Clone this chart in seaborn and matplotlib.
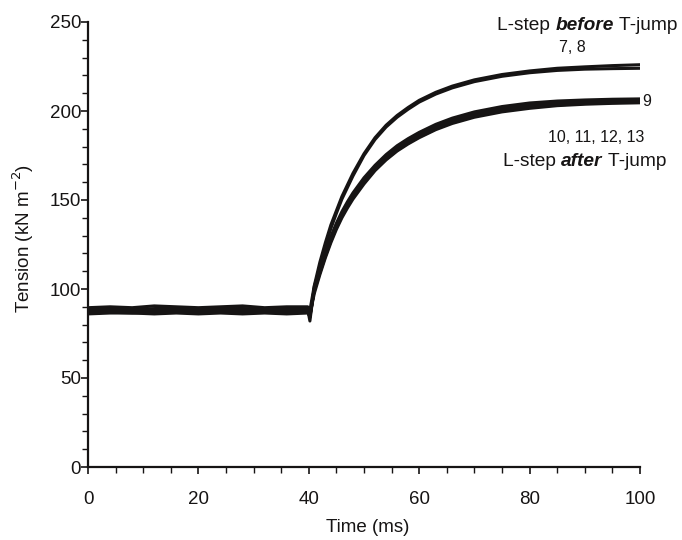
import matplotlib
matplotlib.use("Agg")
import matplotlib.pyplot as plt
import seaborn as sns
import pandas as pd
from matplotlib.ticker import MultipleLocator

# ---- data ----
time_ms = [0, 4, 8, 12, 16, 20, 24, 28, 32, 36, 39.8, 40.2, 41, 42, 43, 44, 45, 46, 47, 48,
           50, 52, 54, 56, 58, 60, 63, 66, 70, 75, 80, 85, 90, 95, 100]

trace7 = [89.5, 90, 89.5, 90.5, 90, 89.5, 90, 90.5, 89.5, 90, 90, 88, 102, 115, 126, 136, 144, 152, 158.5, 165,
          176, 185, 192, 197.5, 202, 206, 210.5, 214, 217.5, 220.5, 222.5, 224, 224.8, 225.5, 226]
trace8 = [88.5, 89, 88.5, 89, 89.5, 88.5, 89, 89, 88.5, 89, 89, 84, 100, 113, 124, 134, 142.5, 150.5, 157, 163.5,
          175, 184, 191, 196.5, 201, 205, 209.5, 213, 216.5, 219.5, 221.5, 222.8, 223.5, 223.8, 224]
trace9 = [88, 88.5, 88, 88.5, 89, 88, 88.5, 89, 88, 88.5, 88.5, 82, 101.5, 111.5, 121, 129.5, 137, 143.5, 149, 154,
          162.5, 169.5, 175.5, 180.5, 184.5, 188, 192.5, 196, 199.5, 202.5, 204.5, 205.6, 206.2, 206.6, 206.8]
trace10 = [87, 87.5, 87, 87.5, 87, 87.5, 87, 87.5, 87, 87.5, 87.5, 86, 99, 109, 118.5, 127, 134.5, 141, 146.5, 151.5,
           160, 167, 173, 178, 182, 185.5, 190, 193.5, 197, 200, 202, 203.4, 204.2, 204.7, 205]
trace11 = [86, 86.5, 86.5, 86, 86.5, 86, 86.5, 86, 86.5, 86, 86.5, 85, 100, 110, 120, 128.5, 136, 142.5, 148, 153,
           161.5, 168.5, 174.5, 179.5, 183.5, 187, 191.5, 195, 198.5, 201.5, 203.5, 204.8, 205.5, 205.8, 206]
trace12 = [87.5, 88, 87.5, 88, 87.5, 88, 88.5, 88, 87.5, 88, 88, 85.5, 97.5, 108, 117.5, 126, 133.5, 140, 145.5, 150.5,
           159, 166.5, 172.5, 177.5, 181.5, 185, 189.5, 193, 196.5, 199.5, 201.5, 203, 203.8, 204.3, 204.6]
trace13 = [86.5, 87, 86.5, 87, 87, 86.5, 87, 86.5, 87, 86.5, 87, 84.5, 100.5, 110.5, 120, 128, 135.5, 142, 147.5, 152.5,
           161, 168, 174, 179, 183, 186.5, 191, 194.5, 198, 201, 203, 204.3, 205, 205.4, 205.7]

trace_names = ["7", "8", "9", "10", "11", "12", "13"]
trace_values = [trace7, trace8, trace9, trace10, trace11, trace12, trace13]

x_ticks = [0, 20, 40, 60, 80, 100]
y_ticks = [0, 50, 100, 150, 200, 250]

rows = []
for name, vals in zip(trace_names, trace_values):
    for t, v in zip(time_ms, vals):
        rows.append({"time": t, "tension": v, "trace": name})
df = pd.DataFrame(rows)

# ---- plot ----
sns.set_style("ticks")
plt.rcParams["font.family"] = ["Liberation Sans", "DejaVu Sans"]

col = "#161414"
fig = plt.figure(figsize=(6.82, 5.40), dpi=100)
ax = fig.add_axes([88 / 682, 1 - 467 / 540, (640 - 88) / 682, (467 - 22) / 540])

sns.lineplot(data=df, x="time", y="tension", units="trace", estimator=None,
             color=col, linewidth=2.2, ax=ax, legend=False, sort=False)

ax.set_xlim(0, 100)
ax.set_ylim(0, 250)
ax.set_xticks(x_ticks)
ax.set_yticks(y_ticks)
ax.xaxis.set_minor_locator(MultipleLocator(5))
ax.yaxis.set_minor_locator(MultipleLocator(10))
ax.tick_params(axis="both", which="major", length=5, width=1.2, labelsize=13.5,
               direction="out", color=col, labelcolor=col)
ax.tick_params(axis="x", which="major", pad=12)
ax.tick_params(axis="y", which="major", pad=0)
ax.tick_params(axis="both", which="minor", length=4, width=1.0, direction="out", color=col)
for s in ["top", "right"]:
    ax.spines[s].set_visible(False)
for s in ["left", "bottom"]:
    ax.spines[s].set_linewidth(1.6)
    ax.spines[s].set_color(col)

ax.set_xlabel("Time (ms)", fontsize=13.5, color=col)
ax.set_ylabel("Tension (kN m$^{-2}$)", fontsize=13.5, color=col)
ax.xaxis.set_label_coords((368 - 88) / 552, (467 - 519) / 445)
ax.yaxis.set_label_coords((36 - 88) / 552, (467 - 238) / 445)

# ---- annotations (figure pixel coords) ----
W, H = 682, 540
fs = 13.8

def chain(x_px, y_px, parts):
    first = fig.text(x_px / W, 1 - y_px / H, parts[0][0], fontsize=fs, color=col,
                     fontweight=parts[0][1], fontstyle=parts[0][2], va="center", ha="left")
    prev = first
    for txt, fw, fst in parts[1:]:
        prev = ax.annotate(txt, xy=(1, 0), xycoords=prev, va="bottom", ha="left",
                           fontsize=fs, color=col, fontweight=fw, fontstyle=fst,
                           annotation_clip=False)
    return first

chain(497, 25, [("L-step ", "normal", "normal"), ("before", "bold", "italic"),
                (" T-jump", "normal", "normal")])
chain(503, 162, [("L-step ", "normal", "normal"), ("after", "bold", "italic"),
                 (" T-jump", "normal", "normal")])

num_kw = dict(fontsize=11.5, color=col, ha="center", va="center")
fig.text(572 / W, 1 - 47 / H, "7, 8", **num_kw)
fig.text(647 / W, 1 - 102 / H, "9", **num_kw)
fig.text(596 / W, 1 - 138 / H, "10, 11, 12, 13", **num_kw)

fig.savefig("out.png", dpi=100, facecolor="white")
